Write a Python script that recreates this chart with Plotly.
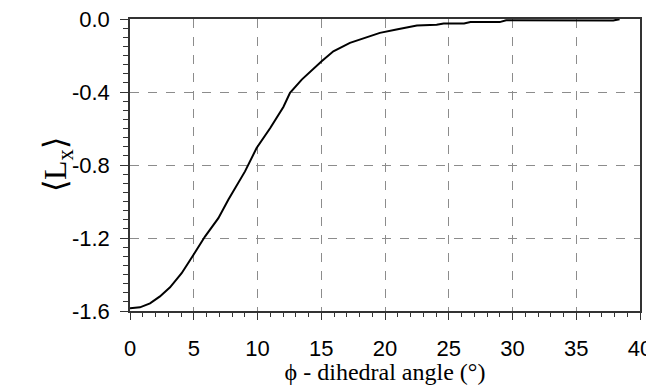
import plotly.graph_objects as go

phi = [0, 0.78, 1.57, 2.35, 3.14, 4.05, 4.97, 5.88, 6.93, 7.71, 9.02, 9.93, 11.0, 12.03,
       12.55, 13.47, 15.03, 15.95, 17.25, 18.56, 19.6, 20.9, 22.5, 24.05, 24.6, 26.2,
       26.7, 29.0, 29.5, 37.9, 38.4]
lx = [-1.585, -1.58, -1.558, -1.52, -1.47, -1.393, -1.293, -1.192, -1.091, -0.99, -0.835,
      -0.707, -0.597, -0.482, -0.405, -0.332, -0.232, -0.177, -0.131, -0.098, -0.076,
      -0.058, -0.036, -0.032, -0.025, -0.025, -0.017, -0.017, -0.007, -0.008, -0.001]

x_ticks = [0, 5, 10, 15, 20, 25, 30, 35, 40]
y_ticks = [0.0, -0.4, -0.8, -1.2, -1.6]
y_ticklabels = ["0.0", "-0.4", "-0.8", "-1.2", "-1.6"]

fig = go.Figure()
fig.add_trace(go.Scatter(x=phi, y=lx, mode="lines",
                         line=dict(color="black", width=2), showlegend=False))

axis_color = "#333333"
fig.update_xaxes(
    range=[0, 40], tickvals=x_ticks, ticktext=[str(v) for v in x_ticks],
    showgrid=True, gridcolor="#8c8c8c", griddash="dash", gridwidth=1,
    showline=True, linecolor=axis_color, linewidth=1.5, mirror=True,
    ticks="outside", ticklen=7, tickcolor=axis_color, tickwidth=1.2,
    minor=dict(dtick=1, ticks="outside", ticklen=4, tickcolor=axis_color, showgrid=False),
    tickfont=dict(family="Liberation Sans", size=22, color="black"),
    ticklabelstandoff=10, automargin=False, ticklabeloverflow="allow",
    zeroline=False,
    title=dict(text="ϕ - dihedral angle (°)",
               font=dict(family="Liberation Serif", size=24, color="black"),
               standoff=0),
)
fig.update_yaxes(
    range=[-1.6, 0], tickvals=y_ticks, ticktext=y_ticklabels,
    showgrid=True, gridcolor="#8c8c8c", griddash="dash", gridwidth=1,
    showline=True, linecolor=axis_color, linewidth=1.5, mirror=True,
    ticks="outside", ticklen=8, tickcolor=axis_color, tickwidth=1.2,
    minor=dict(dtick=0.05, tick0=0, ticks="outside", ticklen=5, tickcolor=axis_color, showgrid=False),
    tickfont=dict(family="Liberation Sans", size=22, color="black"),
    ticklabelstandoff=6, automargin=False, ticklabeloverflow="allow",
    zeroline=False,
)
fig.add_annotation(
    text="⟨L<sub>x</sub>⟩", xref="paper", yref="paper", x=-0.143, y=0.5,
    showarrow=False, textangle=-90, xanchor="center", yanchor="middle",
    font=dict(family="Liberation Serif", size=32, color="black"),
)
fig.update_layout(
    width=646, height=377,
    margin=dict(l=122, r=14, t=11, b=74, autoexpand=False),
    plot_bgcolor="white", paper_bgcolor="white",
)
fig.write_html("out.html")
